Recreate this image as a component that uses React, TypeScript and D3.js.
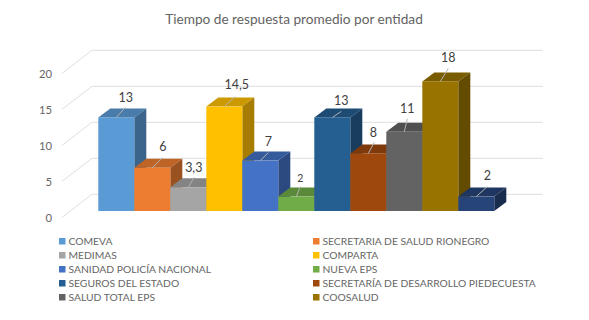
import React from 'react';
import * as d3 from 'd3';

const categories = [
  'COMEVA',
  'SECRETARIA DE SALUD RIONEGRO',
  'MEDIMAS',
  'COMPARTA',
  'SANIDAD POLICÍA NACIONAL',
  'NUEVA EPS',
  'SEGUROS DEL ESTADO',
  'SECRETARÍA DE DESARROLLO PIEDECUESTA',
  'SALUD TOTAL EPS',
  'COOSALUD',
  'OTROS',
];
const values = [13, 6, 3.3, 14.5, 7, 2, 13, 8, 11, 18, 2];
const valueLabels = ['13', '6', '3,3', '14,5', '7', '2', '13', '8', '11', '18', '2'];
const colors = ['#5B9BD5', '#ED7D31', '#A5A5A5', '#FFC000', '#4472C4', '#70AD47', '#255E91', '#9E480E', '#636363', '#997300', '#264478'];
const ticks = [0, 5, 10, 15, 20];
// the last bar has no legend entry in the original
const legendCount = 10;

const title = 'Tiempo de respuesta promedio por entidad';

// hand-placed leader lines: [line end dx, dy, label dx, dy] from bar top centre
const leaders = [
  [9, -10, 9.5, -20],
  [10, -10, 10.5, -21],
  [6, -10, 5.5, -20],
  [11, -10, 12.5, -22],
  [8, -8, 8, -19],
  [4, -10, 4, -18],
  [9, -6, 9, -17],
  [6, -11, 5, -21],
  [3, -13, 3, -23],
  [8, -13, 8, -24],
  [11, -10, 11, -21],
];
const labelSizes = [12.5, 12.5, 12.5, 12.5, 12.5, 10.5, 12.5, 12.5, 12.5, 12.5, 12.5];

const width = 589;
const height = 320;
const depthX = 12;
const depthY = 9;
const font = 'Lato, "Open Sans", sans-serif';

const x = d3.scaleBand<number>().domain(d3.range(values.length)).range([98.3, 494.3]);
const y = d3.scaleLinear().domain([0, 20]).range([211, 67]);

// back wall sits further up and to the right than the bar fronts
const wallY = (v: number) => y(v) - 16.7;
const wallLeft = 92;
const wallRight = 543;
const sideLeft = 62;
const sideDrop = 23;

const shade = (c: string, k: number) => {
  const r = d3.rgb(c);
  return d3.rgb(r.r * k, r.g * k, r.b * k).formatHex();
};

const poly = d3.line();

const App = () => {
  return (
    <svg width={width} height={height} style={{ position: 'fixed', left: 0, top: 0, background: '#fff' }}>
      <text x={294} y={24} textAnchor="middle" fontFamily={font} fontSize={13.65} fill="#636363">
        {title}
      </text>

      {ticks.map((t) => (
        <g key={t}>
          <path
            d={poly([
              [sideLeft, wallY(t) + sideDrop],
              [wallLeft, wallY(t)],
              [wallRight, wallY(t)],
            ]) as string}
            fill="none"
            stroke="#DEDEDE"
            strokeWidth={1}
          />
          <text x={52} y={wallY(t) + sideDrop + 4.5} textAnchor="end" fontFamily={font} fontSize={11.3} fill="#666666">
            {t}
          </text>
        </g>
      ))}

      {values.map((v, i) => {
        const x0 = x(i) as number;
        const x1 = x0 + x.bandwidth();
        const top = y(v);
        const base = y(0);
        const c = colors[i];
        return (
          <g key={categories[i]}>
            <path
              d={poly([
                [x0, top],
                [x0 + depthX, top - depthY],
                [x1 + depthX, top - depthY],
                [x1, top],
              ]) + 'Z'}
              fill={shade(c, 0.8)}
            />
            <path
              d={poly([
                [x1, top],
                [x1 + depthX, top - depthY],
                [x1 + depthX, base - depthY],
                [x1, base],
              ]) + 'Z'}
              fill={shade(c, 0.65)}
            />
            <rect x={x0} y={top} width={x.bandwidth()} height={base - top} fill={c} />
          </g>
        );
      })}

      {values.map((v, i) => {
        const cx = (x(i) as number) + x.bandwidth() / 2;
        const top = y(v);
        const [ldx, ldy, tdx, tdy] = leaders[i];
        return (
          <g key={i}>
            <line x1={cx} y1={top} x2={cx + ldx} y2={top + ldy} stroke="#B3B3B3" strokeWidth={1} />
            <text
              x={cx + tdx}
              y={top + tdy}
              dy="0.35em"
              textAnchor="middle"
              fontFamily={font}
              fontSize={labelSizes[i]}
              fill="#404040"
            >
              {valueLabels[i]}
            </text>
          </g>
        );
      })}

      {categories.slice(0, legendCount).map((name, i) => {
        const col = i % 2;
        const row = Math.floor(i / 2);
        const lx = col === 0 ? 59 : 313;
        const ly = 241 + row * 14;
        return (
          <g key={name}>
            <rect x={lx} y={ly - 3} width={6.5} height={6.5} fill={colors[i]} />
            <text x={lx + 9.5} y={ly + 3.7} fontFamily={font} fontSize={10.3} fill="#666666">
              {name}
            </text>
          </g>
        );
      })}
    </svg>
  );
};

export default App;
